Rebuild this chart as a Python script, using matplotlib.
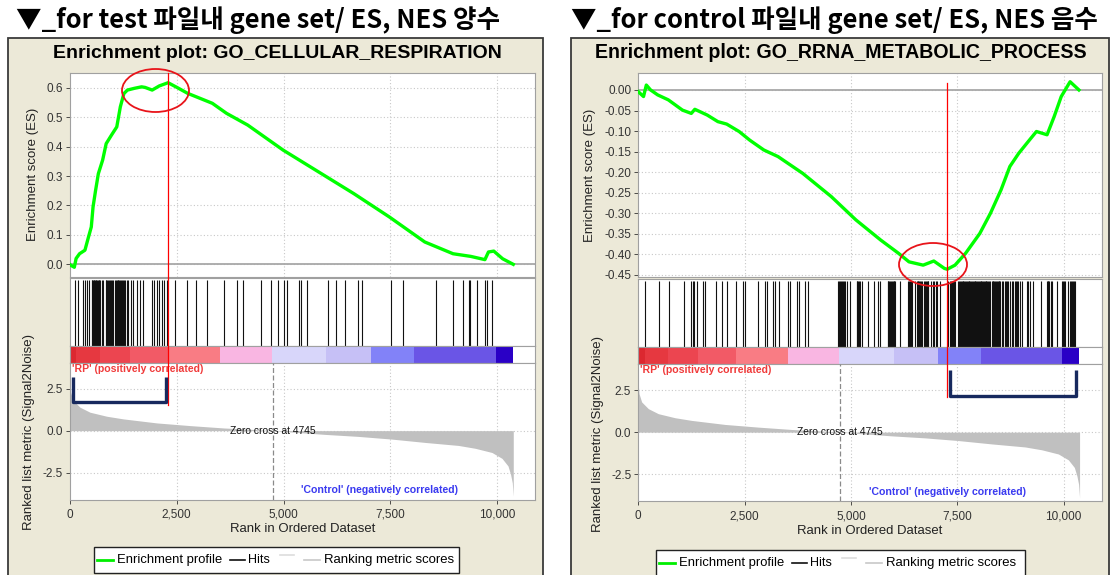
import matplotlib
matplotlib.use("Agg")
import matplotlib.pyplot as plt
from matplotlib.patches import Rectangle, Ellipse
from matplotlib.lines import Line2D
from matplotlib.transforms import blended_transform_factory

plt.rcParams['axes.unicode_minus'] = False
plt.rcParams['font.family'] = ['Liberation Sans', 'DejaVu Sans']

# ---------------- data ----------------
x_ticks = [0, 2500, 5000, 7500, 10000]
x_tick_labels = ["0", "2,500", "5,000", "7,500", "10,000"]

# running enrichment score, GO_CELLULAR_RESPIRATION
left_es_rank = [0, 25, 108, 150, 230, 356, 440, 505, 546, 604, 670, 770, 853, 977,
                1101, 1184, 1267, 1349, 1515, 1680, 1763, 1929, 2094, 2301, 2508,
                2757, 3336, 3667, 4164, 4992, 5820, 6647, 7475, 8303, 8965, 9379,
                9710, 9793, 9917, 10124, 10373]
left_es_value = [0.0, -0.003, -0.01, 0.02, 0.036, 0.048, 0.093, 0.127, 0.195, 0.25,
                 0.308, 0.354, 0.41, 0.439, 0.467, 0.535, 0.58, 0.592, 0.598, 0.603,
                 0.601, 0.592, 0.606, 0.617, 0.601, 0.581, 0.547, 0.513, 0.473, 0.388,
                 0.314, 0.24, 0.161, 0.076, 0.036, 0.027, 0.016, 0.042, 0.045, 0.019, 0.0]
left_peak = 2301

# running enrichment score, GO_RRNA_METABOLIC_PROCESS
right_es_rank = [0, 125, 191, 291, 458, 707, 1040, 1248, 1331, 1622, 1872, 2080, 2371,
                 2621, 2953, 3286, 3869, 4534, 5116, 5699, 6115, 6364, 6697, 6947, 7196,
                 7263, 7446, 7696, 8028, 8278, 8527, 8735, 8943, 9193, 9359, 9609, 9775,
                 9942, 10150, 10358]
right_es_value = [-0.004, -0.016, 0.012, 0.0, -0.012, -0.024, -0.049, -0.057, -0.047,
                  -0.061, -0.077, -0.083, -0.101, -0.122, -0.146, -0.162, -0.203, -0.259,
                  -0.316, -0.365, -0.397, -0.418, -0.426, -0.416, -0.434, -0.436, -0.426,
                  -0.397, -0.349, -0.30, -0.243, -0.186, -0.154, -0.122, -0.101, -0.109,
                  -0.065, -0.016, 0.02, 0.0]
right_peak = 7263

left_hits = [124, 202, 304, 358, 397, 452, 514, 530, 545, 560, 575, 590, 605, 620, 640,
             660, 680, 695, 709, 748, 787, 842, 860, 880, 900, 920, 940, 960, 982, 1021,
             1060, 1080, 1100, 1120, 1140, 1160, 1180, 1200, 1220, 1240, 1260, 1293, 1333,
             1372, 1426, 1489, 1582, 1644, 1722, 1917, 1972, 2034, 2097, 2152, 2206, 2268,
             2463, 2750, 2955, 3200, 3597, 3920, 4043, 4485, 4701, 4862, 5002, 5089, 5363,
             5402, 5543, 6048, 6221, 6438, 6735, 6836, 7514, 7795, 8567, 8964, 9191, 9346,
             9362, 9518, 9712, 9752, 9883]

right_hits = [170, 480, 728, 1082, 1232, 1285, 1320, 1375, 1520, 1575, 1838, 1958, 2090,
              2300, 2460, 2500, 2826, 2975, 3020, 3177, 3218, 3306, 3524, 3565, 3735, 3775,
              3915, 3990, 4703, 4725, 4745, 4770, 4790, 4815, 4840, 4860, 4899, 4978, 5134,
              5150, 5170, 5190, 5213, 5267, 5393, 5549, 5643, 5683, 5863, 5880, 5900, 5920,
              5940, 5960, 5980, 6000, 6020, 6035, 6153, 6349, 6370, 6390, 6410, 6427, 6505,
              6544, 6565, 6585, 6605, 6625, 6645, 6662, 6724, 6745, 6765, 6785, 6800, 6819,
              6881, 6936, 6960, 6990, 7014, 7093, 7290, 7320, 7345, 7367, 7390, 7420, 7445,
              7524, 7545, 7565, 7585, 7605, 7625, 7645, 7665, 7685, 7705, 7725, 7745, 7765,
              7785, 7805, 7825, 7845, 7865, 7885, 7905, 7925, 7945, 7965, 7985, 8005, 8025,
              8045, 8065, 8085, 8105, 8125, 8145, 8165, 8185, 8205, 8225, 8245, 8268, 8307,
              8330, 8350, 8370, 8390, 8410, 8430, 8450, 8470, 8490, 8510, 8542, 8581, 8610,
              8640, 8670, 8700, 8730, 8777, 8816, 8845, 8875, 8905, 8935, 8965, 9012, 9130,
              9160, 9208, 9286, 9466, 9599, 9620, 9640, 9660, 9690, 9717, 9835, 9952, 9975,
              10000, 10030, 10093, 10148, 10170, 10195, 10220, 10245, 10266]

# ranked list metric (Signal2Noise), shared by both gene sets
metric_rank = [0, 19, 81, 238, 473, 865, 1256, 2040, 2823, 3607, 4390, 4745, 5957, 6740,
               7524, 8308, 9091, 9483, 9875, 10110, 10250, 10310, 10350, 10373]
metric_value = [2.9, 2.3, 1.8, 1.4, 1.1, 0.86, 0.7, 0.46, 0.3, 0.16, 0.06, 0.0, -0.22,
                -0.34, -0.5, -0.7, -0.88, -1.05, -1.3, -1.65, -2.1, -2.6, -3.1, -3.9]
zero_cross = 4745

# colour bar under the hits: segment edges and colours (red -> blue)
bar_edges = [0, 150, 700, 1400, 2300, 3510, 4720, 6000, 7050, 8060, 9965, 10370]
bar_colors = ['#DC2830', '#E63840', '#EC4550', '#F25A66', '#F97C84', '#F9B6E2',
              '#D8D6FA', '#C6C0F6', '#8282F8', '#6A55E6', '#2A00C6']

# ---------------- figure ----------------
W, H = 1110, 575
fig = plt.figure(figsize=(W / 100, H / 100), dpi=100)
fig.patch.set_facecolor('white')

BEIGE = '#ECE9D8'
GRID = '#C8C8C8'
SPINE = '#A0A0A0'
TICKC = '#333333'


def fx(x):
    return x / W


def fy(y):
    return 1 - y / H


def add_ax(x0, y0, x1, y1):
    return fig.add_axes([fx(x0), fy(y1), (x1 - x0) / W, (y1 - y0) / H])


def style_spines(ax):
    for s in ax.spines.values():
        s.set_color(SPINE)
        s.set_linewidth(0.8)


to_fit = []


def ftext(x, y, s, target=None, **kw):
    t = fig.text(fx(x), fy(y), s, **kw)
    if target is not None:
        to_fit.append((t, target))
    return t


def draw_panel(p):
    bx0, by0, bx1 = p['box']
    fig.add_artist(Rectangle((fx(bx0), fy(590)), (bx1 - bx0) / W, (590 - by0) / H,
                             transform=fig.transFigure, facecolor=BEIGE,
                             edgecolor='#3A3A3A', lw=1.3, zorder=-5))
    ax0, ax1 = p['ax_x']
    xmax = p['xmax']

    # heading above the panel
    hx0, hx1 = p['heading_x']
    ftext(hx0, 20, p['heading'], target=hx1 - hx0, ha='left', va='center',
          fontsize=17, fontweight='bold', family=['Noto Sans CJK KR', 'DejaVu Sans'])
    # plot title
    ftext(p['title_cx'], 53, p['title'], target=p['title_w'], ha='center', va='center',
          fontsize=12, fontweight='bold')

    # ---- enrichment score ----
    es_y0, es_y1 = p['es_y']
    ax = add_ax(ax0, es_y0, ax1, es_y1)
    style_spines(ax)
    ax.set_xlim(0, xmax)
    ax.set_ylim(*p['es_ylim'])
    for xt in x_ticks[1:]:
        ax.axvline(xt, color=GRID, lw=0.8, ls=(0, (1, 2)), zorder=1)
    for yt in p['es_ticks']:
        ax.axhline(yt, color=GRID, lw=0.8, ls=(0, (1, 2)), zorder=1)
    ax.axhline(0, color='#A8A8A8', lw=1.3, zorder=2)
    ax.plot(p['es_rank'], p['es_value'], color='#00FF00', lw=2.4, zorder=3,
            solid_joinstyle='round')
    ax.set_yticks(p['es_ticks'])
    ax.set_yticklabels([p['es_fmt'] % v for v in p['es_ticks']])
    ax.tick_params(axis='y', labelsize=8.5, colors=TICKC, length=3, width=0.6, pad=2)
    ax.tick_params(axis='x', bottom=False, labelbottom=False)
    ftext(p['es_label_x'], (es_y0 + es_y1) / 2, 'Enrichment score (ES)', target=133,
          rotation=90, ha='center', va='center', fontsize=9, color='#222222')

    # ---- hits ----
    hy0, hy1 = p['hits_y']
    axh = add_ax(ax0, hy0, ax1, hy1)
    style_spines(axh)
    axh.set_xlim(0, xmax)
    axh.set_ylim(0, 1)
    axh.vlines(p['hits'], 0.0, 0.97, color='#111111', lw=0.8)
    axh.set_xticks([])
    axh.set_yticks([])

    # ---- colour bar ----
    cy0, cy1 = p['bar_y']
    axc = add_ax(ax0, cy0, ax1, cy1)
    style_spines(axc)
    axc.set_xlim(0, xmax)
    axc.set_ylim(0, 1)
    for a, b, c in zip(bar_edges[:-1], bar_edges[1:], bar_colors):
        axc.axvspan(a, b, color=c, lw=0)
    axc.set_xticks([])
    axc.set_yticks([])

    # ---- ranked list metric ----
    ry0, ry1 = p['rank_y']
    axr = add_ax(ax0, ry0, ax1, ry1)
    style_spines(axr)
    axr.set_xlim(0, xmax)
    axr.set_ylim(-4.1, 4.06)
    for xt in x_ticks[1:]:
        axr.axvline(xt, color=GRID, lw=0.8, ls=(0, (1, 2)), zorder=1)
    for yt in (-2.5, 0, 2.5):
        axr.axhline(yt, color=GRID, lw=0.8, ls=(0, (1, 2)), zorder=1)
    axr.fill_between(metric_rank, 0, metric_value, color='#C0C0C0', lw=0, zorder=2)
    axr.axvline(zero_cross, color='#8A8A8A', lw=0.9, ls=(0, (4, 2)), zorder=3)
    t = axr.text(zero_cross, 0, 'Zero cross at %d' % zero_cross, ha='center',
                 va='center', fontsize=7.5, color='#111111', zorder=4)
    to_fit.append((t, 85))
    t = axr.text(0.004, 0.955, "'RP' (positively correlated)", transform=axr.transAxes,
                 ha='left', va='center', fontsize=7.5, fontweight='bold', color='#F03A3A')
    to_fit.append((t, 131))
    t = axr.text(0.497, 0.068, "'Control' (negatively correlated)", transform=axr.transAxes,
                 ha='left', va='center', fontsize=7.5, fontweight='bold', color='#3A3AF0')
    to_fit.append((t, 158))
    axr.set_yticks([-2.5, 0, 2.5])
    axr.set_yticklabels(['-2.5', '0.0', '2.5'])
    axr.set_xticks(x_ticks)
    axr.set_xticklabels(x_tick_labels)
    axr.tick_params(axis='both', labelsize=8.5, colors=TICKC, length=3, width=0.6, pad=2)
    axr.tick_params(axis='x', pad=3.5)
    ftext(p['rank_label_x'], (ry0 + ry1) / 2 + 1, 'Ranked list metric (Signal2Noise)',
          target=197, rotation=90, ha='center', va='center', fontsize=9, color='#222222')
    ftext((ax0 + ax1) / 2, ry1 + 29.5, 'Rank in Ordered Dataset', target=145,
          ha='center', va='center', fontsize=9.5, color='#222222')

    # ---- legend ----
    lx0, ly0, lx1, ly1 = p['legend']
    fig.add_artist(Rectangle((fx(lx0), fy(ly1)), (lx1 - lx0) / W, (ly1 - ly0) / H,
                             transform=fig.transFigure, facecolor='white',
                             edgecolor='#222222', lw=1.0, zorder=2))
    ly = (ly0 + ly1) / 2
    def seg(a, b, y, c, lw):
        fig.add_artist(Line2D([fx(lx0 + a), fx(lx0 + b)], [fy(y), fy(y)],
                              transform=fig.transFigure, color=c, lw=lw, zorder=3))
    seg(3, 19, ly, '#00EE00', 2.0)
    ftext(lx0 + 23, ly, 'Enrichment profile', target=105, ha='left', va='center',
          fontsize=9, zorder=3)
    seg(136, 151, ly, '#111111', 1.2)
    ftext(lx0 + 154, ly, 'Hits', ha='left', va='center', fontsize=9, zorder=3)
    seg(186, 200, ly - 5, '#DDDDDD', 1.2)
    seg(210, 226, ly, '#C8C8C8', 1.2)
    ftext(lx0 + 230, ly, 'Ranking metric scores', target=131, ha='left', va='center',
          fontsize=9, zorder=3)

    # ---- highlight marks: peak line, circle, bracket ----
    blend = blended_transform_factory(ax.transData, fig.transFigure)
    ry_a, ry_b = p['red_y']
    fig.add_artist(Line2D([p['peak'], p['peak']], [fy(ry_a), fy(ry_b)], transform=blend,
                          color='#FF0000', lw=0.9, zorder=6))
    ex, ey, ew, eh = p['ellipse']
    fig.add_artist(Ellipse((fx(ex), fy(ey)), ew / W, eh / H, transform=fig.transFigure,
                           facecolor='none', edgecolor='#E8141A', lw=1.3, zorder=6))
    bxs = [fx(q[0]) for q in p['bracket']]
    bys = [fy(q[1]) for q in p['bracket']]
    fig.add_artist(Line2D(bxs, bys, transform=fig.transFigure, color='#17295E', lw=2.4,
                          solid_joinstyle='round', solid_capstyle='butt', zorder=6))


left = dict(
    box=(7.5, 38, 542.5), ax_x=(69.7, 535.2), xmax=10886,
    heading='▼_for test 파일내 gene set/ ES, NES 양수', heading_x=(16, 501),
    title='Enrichment plot: GO_CELLULAR_RESPIRATION', title_cx=277, title_w=448,
    es_y=(72.7, 277), es_ylim=(-0.043, 0.651),
    es_ticks=[0.0, 0.1, 0.2, 0.3, 0.4, 0.5, 0.6], es_fmt='%.1f',
    es_rank=left_es_rank, es_value=left_es_value, hits=left_hits, peak=left_peak,
    hits_y=(278, 345.5), bar_y=(345.5, 362.5), rank_y=(362.5, 499.5),
    es_label_x=32.6, rank_label_x=29,
    legend=(94, 547, 459, 573),
    red_y=(72.7, 405), ellipse=(155.5, 90.5, 67, 43),
    bracket=[(73, 377), (73, 402), (166, 402), (166, 377)],
)

right = dict(
    box=(571, 38, 1108.5), ax_x=(638.2, 1102), xmax=10900,
    heading='▼_for control 파일내 gene set/ ES, NES 음수', heading_x=(571, 1098),
    title='Enrichment plot: GO_RRNA_METABOLIC_PROCESS', title_cx=841, title_w=490,
    es_y=(72.7, 277.3), es_ylim=(-0.4556, 0.042),
    es_ticks=[0.0, -0.05, -0.10, -0.15, -0.20, -0.25, -0.30, -0.35, -0.40, -0.45],
    es_fmt='%.2f',
    es_rank=right_es_rank, es_value=right_es_value, hits=right_hits, peak=right_peak,
    hits_y=(278.5, 346.5), bar_y=(346.5, 364), rank_y=(364, 501),
    es_label_x=590.4, rank_label_x=597.5,
    legend=(656, 550, 1025, 576),
    red_y=(83, 397), ellipse=(933, 264.5, 68, 43),
    bracket=[(950.4, 370), (950.4, 395.7), (1076, 395.7), (1076, 370)],
)

draw_panel(left)
draw_panel(right)

# size the labelled texts to their widths
fig.canvas.draw()
renderer = fig.canvas.get_renderer()
for t, target in to_fit:
    bb = t.get_window_extent(renderer=renderer)
    size = max(bb.width, bb.height)
    t.set_fontsize(t.get_fontsize() * target / size)

fig.savefig('out.png', dpi=100)
